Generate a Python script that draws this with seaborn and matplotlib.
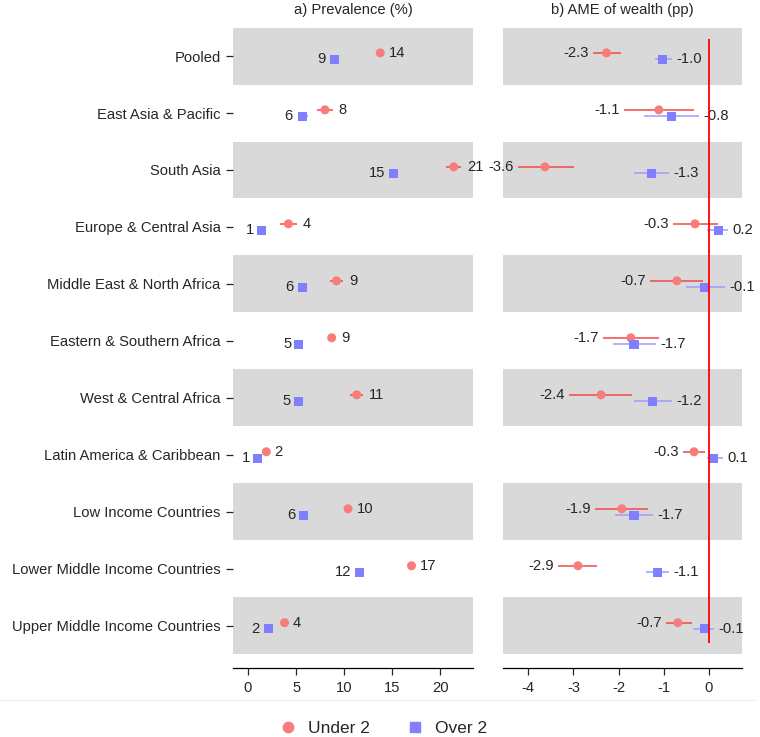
import numpy as np
import pandas as pd
import seaborn as sns
import matplotlib.pyplot as plt
from matplotlib.lines import Line2D

regions = ['Pooled', 'East Asia & Pacific', 'South Asia', 'Europe & Central Asia',
           'Middle East & North Africa', 'Eastern & Southern Africa',
           'West & Central Africa', 'Latin America & Caribbean',
           'Low Income Countries', 'Lower Middle Income Countries',
           'Upper Middle Income Countries']

# a) prevalence (%)
prev_under = [13.75, 8.0, 21.4, 4.2, 9.2, 8.7, 11.3, 1.9, 10.4, 17.0, 3.8]
prev_over = [8.96, 5.7, 15.1, 1.4, 5.7, 5.3, 5.3, 1.0, 5.8, 11.6, 2.1]
prev_under_hw = [0.3, 0.8, 0.8, 0.9, 0.7, 0.4, 0.7, 0.3, 0.3, 0.3, 0.3]
prev_over_hw = [0.3, 0.5, 0.3, 0.2, 0.4, 0.2, 0.3, 0.2, 0.3, 0.3, 0.3]

# b) AME of wealth (pp)
ame_under = [-2.27, -1.11, -3.63, -0.31, -0.71, -1.73, -2.39, -0.33, -1.93, -2.90, -0.69]
ame_under_lo = [-2.57, -1.88, -4.22, -0.80, -1.31, -2.35, -3.10, -0.58, -2.52, -3.34, -0.95]
ame_under_hi = [-1.95, -0.33, -2.99, 0.20, -0.13, -1.11, -1.70, -0.09, -1.35, -2.48, -0.38]
ame_over = [-1.02, -0.82, -1.28, 0.20, -0.09, -1.66, -1.24, 0.11, -1.66, -1.13, -0.11]
ame_over_lo = [-1.19, -1.44, -1.66, -0.04, -0.51, -2.12, -1.66, -0.04, -2.08, -1.39, -0.35]
ame_over_hi = [-0.82, -0.22, -0.88, 0.42, 0.35, -1.17, -0.82, 0.31, -1.24, -0.88, 0.11]

groups = ['Under 2', 'Over 2']
colors = {'Under 2': '#F87C7C', 'Over 2': '#7F7FFF'}
bar_colors = {'Under 2': '#F04848', 'Over 2': '#9C9CFF'}
offsets = {'Under 2': -0.055, 'Over 2': 0.055}

n = len(regions)
idx = np.arange(n)

df = pd.DataFrame({
    'region': regions * 2,
    'group': ['Under 2'] * n + ['Over 2'] * n,
    'prev': prev_under + prev_over,
    'prev_lo': list(np.array(prev_under) - prev_under_hw) + list(np.array(prev_over) - prev_over_hw),
    'prev_hi': list(np.array(prev_under) + prev_under_hw) + list(np.array(prev_over) + prev_over_hw),
    'ame': ame_under + ame_over,
    'ame_lo': ame_under_lo + ame_over_lo,
    'ame_hi': ame_under_hi + ame_over_hi,
})
df['ypos'] = list(idx + offsets['Under 2']) + list(idx + offsets['Over 2'])

sns.set_style('white')
plt.rcParams['font.family'] = ['Liberation Sans', 'DejaVu Sans']
plt.rcParams['axes.unicode_minus'] = False

fs = 10.6

fig = plt.figure(figsize=(7.6, 7.37), dpi=100)
ax1 = fig.add_axes([0.3066, 0.0936, 0.3158, 0.8698])
ax2 = fig.add_axes([0.6618, 0.0936, 0.3145, 0.8698])

for ax in (ax1, ax2):
    for i in idx[::2]:
        ax.axhspan(i - 0.5, i + 0.5, color='#D9D9D9', lw=0, zorder=0)

# left panel
for g in groups:
    d = df[df.group == g]
    ax1.hlines(d.ypos, d.prev_lo, d.prev_hi, color=bar_colors[g], lw=1.1, zorder=2)
sns.scatterplot(data=df, x='prev', y='ypos', hue='group', style='group',
                palette=colors, markers={'Under 2': 'o', 'Over 2': 's'},
                s=42, linewidth=0, ax=ax1, zorder=3)
for _, r in df.iterrows():
    lab = str(int(round(r.prev)))
    if r.group == 'Under 2':
        ax1.annotate(lab, (r.prev_hi, r.ypos), xytext=(4, 0), textcoords='offset points',
                     ha='left', va='center', fontsize=fs)
    else:
        ax1.annotate(lab, (r.prev_lo, r.ypos), xytext=(-4, 0), textcoords='offset points',
                     ha='right', va='center', fontsize=fs)

# right panel
for g in groups:
    d = df[df.group == g]
    ax2.hlines(d.ypos, d.ame_lo, d.ame_hi, color=bar_colors[g], lw=1.1, zorder=2)
ax2.vlines(0, -0.3, 10.3, color='red', lw=1.3, zorder=4)
sns.scatterplot(data=df, x='ame', y='ypos', hue='group', style='group',
                palette=colors, markers={'Under 2': 'o', 'Over 2': 's'},
                s=42, linewidth=0, ax=ax2, zorder=3)
for _, r in df.iterrows():
    lab = f'{r.ame:.1f}'
    if r.group == 'Under 2':
        ax2.annotate(lab, (r.ame_lo, r.ypos), xytext=(-3, 0), textcoords='offset points',
                     ha='right', va='center', fontsize=fs)
    else:
        ax2.annotate(lab, (r.ame_hi, r.ypos), xytext=(3, 0), textcoords='offset points',
                     ha='left', va='center', fontsize=fs)

ax1.set_xlim(-1.56, 23.4)
ax1.set_xticks([0, 5, 10, 15, 20])
ax2.set_xlim(-4.56, 0.73)
ax2.set_xticks([-4, -3, -2, -1, 0])

for ax in (ax1, ax2):
    ax.set_ylim(10.74, -0.51)
    ax.set_xlabel('')
    ax.set_ylabel('')
    ax.legend_.remove()
    for s in ['top', 'right', 'left']:
        ax.spines[s].set_visible(False)
    ax.spines['bottom'].set_color('black')
    ax.spines['bottom'].set_linewidth(0.9)
    ax.tick_params(axis='x', bottom=True, length=5, width=0.9, labelsize=fs, pad=4)

ax1.set_yticks(idx)
ax1.set_yticklabels(regions, fontsize=fs)
ax1.tick_params(axis='y', left=True, length=5, width=0.9, pad=4)
ax2.set_yticks([])

ax1.set_title('a) Prevalence (%)', fontsize=10.6, pad=9)
ax2.set_title('b) AME of wealth (pp)', fontsize=10.6, pad=9)

fig.add_artist(Line2D([0.0, 0.995], [1 - 700 / 737] * 2, color='#EEF2F5', lw=1,
                      transform=fig.transFigure))

handles = [Line2D([], [], marker='o', ls='', color=colors['Under 2'], markersize=7.5),
           Line2D([], [], marker='s', ls='', color=colors['Over 2'], markersize=7)]
fig.legend(handles, groups, loc='lower center', bbox_to_anchor=(0.498, -0.02),
           ncol=2, frameon=False, fontsize=12.5, handletextpad=0.15, columnspacing=1.6)

fig.savefig('out.png', dpi=100)
